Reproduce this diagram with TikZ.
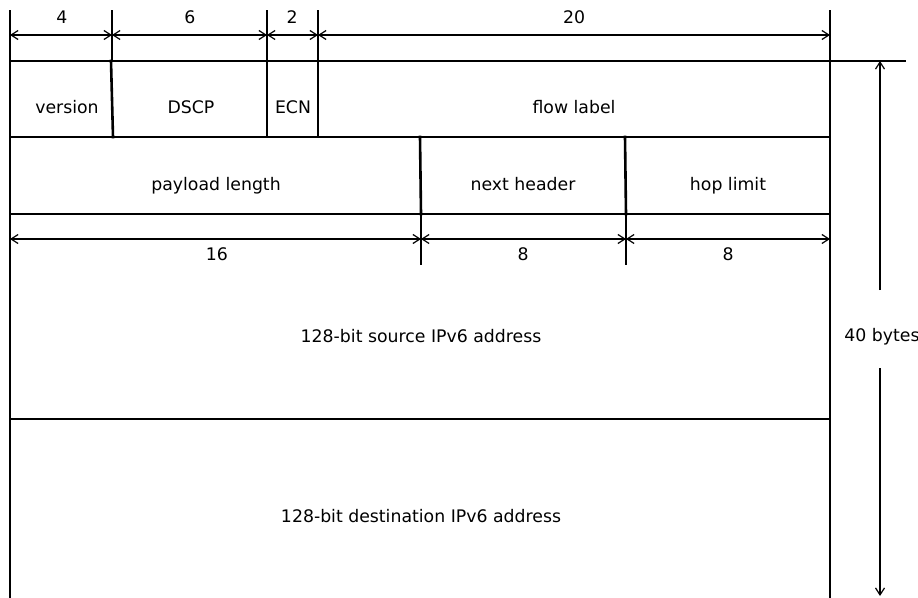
\documentclass[tikz,border=0pt]{standalone}
\usepackage{fontspec}
\setmainfont{DejaVu Sans}
\usetikzlibrary{arrows.meta}
\begin{document}
\begin{tikzpicture}[x=1pt,y=-1pt,
  box/.style={line width=2.6pt,line cap=rect},
  dim/.style={line width=1.2pt},
  dimarrow/.style={dim,{Straight Barb[length=7pt,width=9pt]}-{Straight Barb[length=7pt,width=9pt]}},
  onearrow/.style={dim,-{Straight Barb[length=7pt,width=9pt]}},
  lbl/.style={anchor=base,inner sep=0pt,font=\fontsize{17.3}{20}\selectfont}]
\useasboundingbox (0,0) rectangle (918,597);
% grid coordinates
\coordinate (TL) at (10,61);
\coordinate (TR) at (830,61);
\coordinate (BL) at (10,597);
\coordinate (BR) at (830,597);
\coordinate (R1L) at (10,137);
\coordinate (R1R) at (830,137);
\coordinate (R2L) at (10,214);
\coordinate (R2R) at (830,214);
\coordinate (R3L) at (10,419);
\coordinate (R3R) at (830,419);
\coordinate (d1t) at (111,61);  \coordinate (d1b) at (113,137);
\coordinate (d2t) at (267,61);  \coordinate (d2b) at (267,137);
\coordinate (d3t) at (318,61);  \coordinate (d3b) at (318,137);
\coordinate (d4t) at (420,137); \coordinate (d4b) at (421,214);
\coordinate (d5t) at (625,137); \coordinate (d5b) at (626,214);
% box outline
\draw[box] (BL) -- (TL) -- (TR) -- (BR);
\draw[box] (R1L) -- (R1R);
\draw[box] (R2L) -- (R2R);
\draw[box] (R3L) -- (R3R);
\draw[box] (d1t) -- (d1b);
\draw[box] (d2t) -- (d2b);
\draw[box] (d3t) -- (d3b);
\draw[box] (d4t) -- (d4b);
\draw[box] (d5t) -- (d5b);
% top dimension ticks
\coordinate (t0) at (10,10);  \coordinate (a0) at (10,35);
\coordinate (t1) at (112,10); \coordinate (a1) at (112,35); \coordinate (b1) at (112,61);
\coordinate (t2) at (267,10); \coordinate (a2) at (267,35);
\coordinate (t3) at (318,10); \coordinate (a3) at (318,35);
\coordinate (t4) at (830,10); \coordinate (a4) at (830,35);
\draw[dim] (t0) -- (TL);
\draw[dim] (t1) -- (b1);
\draw[dim] (t2) -- (d2t);
\draw[dim] (t3) -- (d3t);
\draw[dim] (t4) -- (TR);
\draw[dimarrow] (a0) -- (a1);
\draw[dimarrow] (a1) -- (a2);
\draw[dimarrow] (a2) -- (a3);
\draw[dimarrow] (a3) -- (a4);
\node[lbl] (n4) at (62,23.5) {4};
\node[lbl] (n6) at (190,23.5) {6};
\node[lbl] (n2) at (292,23.5) {2};
\node[lbl] (n20) at (574,23.5) {20};
% middle dimension
\coordinate (m0) at (10,239);
\coordinate (m1) at (421,239); \coordinate (m1e) at (421,265);
\coordinate (m2) at (626,239); \coordinate (m2e) at (626,265);
\coordinate (m3) at (830,239);
\draw[dim] (d4b) -- (m1e);
\draw[dim] (d5b) -- (m2e);
\draw[dimarrow] (m0) -- (m1);
\draw[dimarrow] (m1) -- (m2);
\draw[dimarrow] (m2) -- (m3);
\node[lbl] (n16) at (217,260) {16};
\node[lbl] (n8a) at (523,260) {8};
\node[lbl] (n8b) at (728,260) {8};
% field labels
\node[lbl] (version) at (67,113) {version};
\node[lbl] (dscp) at (191,113) {DSCP};
\node[lbl] (ecn) at (293,113) {ECN};
\node[lbl] (flow) at (574,113) {flow label};
\node[lbl] (payload) at (216,190) {payload length};
\node[lbl] (next) at (523,190) {next header};
\node[lbl] (hop) at (728,190) {hop limit};
\node[lbl] (src) at (421,342) {128-bit source IPv6 address};
\node[lbl] (dst) at (421,522) {128-bit destination IPv6 address};
% 40 bytes dimension
\coordinate (ext) at (906,61);
\draw[dim] (TR) -- (ext);
\coordinate (v0) at (880,61);
\coordinate (v1) at (880,290);
\coordinate (v2) at (880,368);
\coordinate (v3) at (880,596);
\node[lbl] (bytes) at (882,341) {40 bytes};
\draw[onearrow] (v1) -- (v0);
\draw[onearrow] (v2) -- (v3);
\end{tikzpicture}
\end{document}
